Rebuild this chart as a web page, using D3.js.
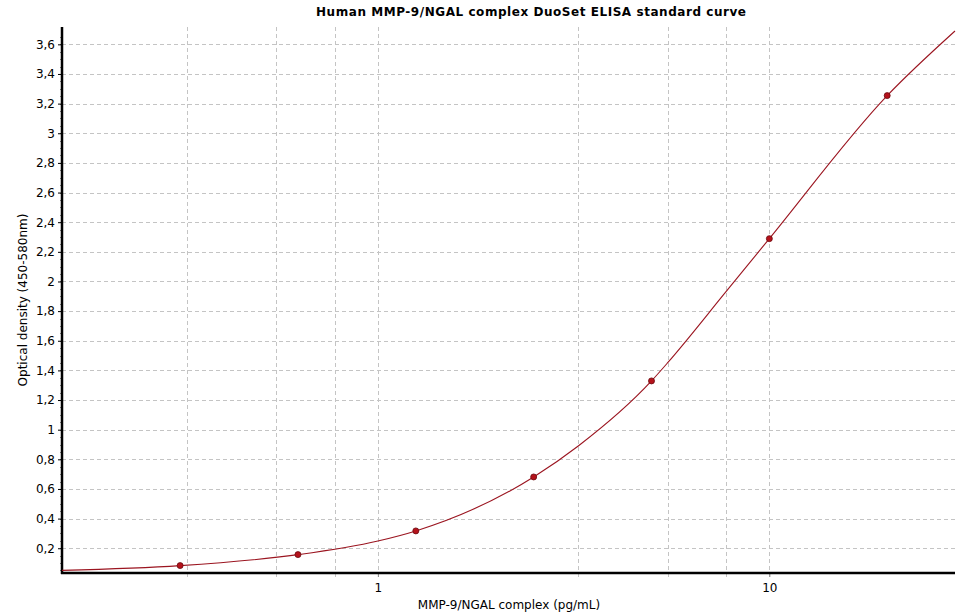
<!DOCTYPE html>
<html>
<head>
<meta charset="utf-8">
<script src="https://cdn.jsdelivr.net/npm/d3@7"></script>
<style>
  body { margin: 0; background: #fff; }
  text { font-family: "DejaVu Sans", Verdana, sans-serif; }
</style>
</head>
<body>
<div id="chart"></div>
<script>
// Standard concentrations (pg/mL) and measured optical density
var concentrations = [0.3125, 0.625, 1.25, 2.5, 5, 10, 20];
var densities = [0.083, 0.157, 0.317, 0.681, 1.329, 2.289, 3.254];

// Fitted curve
var curveConc = [0.156, 0.3125, 0.625, 1.0, 1.25, 2.5, 3.25, 5, 5.5, 7.75, 10, 20, 29.8];
var curveOD = [0.051, 0.083, 0.157, 0.249, 0.317, 0.681, 0.890, 1.329, 1.452, 1.931, 2.289, 3.254, 3.690];

// Axis ticks
var yTicks = [0.2, 0.4, 0.6, 0.8, 1, 1.2, 1.4, 1.6, 1.8, 2, 2.2, 2.4, 2.6, 2.8, 3, 3.2, 3.4, 3.6];
var xLabelTicks = [1, 10];
var xGridTicks = [0.325, 0.55, 0.775, 1, 3.25, 5.5, 7.75, 10];

var svgWidth = 970;
var svgHeight = 613;

var margin = {
  top: 27,
  right: 15,
  bottom: 40,
  left: 62
};

var width = svgWidth - margin.left - margin.right;
var height = svgHeight - margin.top - margin.bottom;

var svg = d3.select("#chart")
  .append("svg")
  .attr("width", svgWidth)
  .attr("height", svgHeight);

var chartGroup = svg.append("g")
  .attr("transform", `translate(${margin.left}, ${margin.top})`);

var xScale = d3.scaleLog()
  .domain([0.156, 29.8])
  .range([0, width]);

var yScale = d3.scaleLinear()
  .domain([0.033, 3.717])
  .range([height, 0]);

// Horizontal grid
chartGroup.selectAll(".hgrid")
  .data(yTicks)
  .enter()
  .append("line")
  .attr("x1", 0)
  .attr("x2", width)
  .attr("y1", d => Math.round(yScale(d)) + 0.5)
  .attr("y2", d => Math.round(yScale(d)) + 0.5)
  .attr("stroke", "#c4c4c4")
  .attr("stroke-dasharray", "4,3");

// Vertical grid
chartGroup.selectAll(".vgrid")
  .data(xGridTicks)
  .enter()
  .append("line")
  .attr("x1", d => Math.round(xScale(d)) + 0.5)
  .attr("x2", d => Math.round(xScale(d)) + 0.5)
  .attr("y1", 0)
  .attr("y2", height + 4)
  .attr("stroke", "#c4c4c4")
  .attr("stroke-dasharray", "4,3");

// Minor ticks on the y axis
chartGroup.selectAll(".ytickminor")
  .data(d3.range(0.05, 3.7, 0.05))
  .enter()
  .append("line")
  .attr("x1", -2)
  .attr("x2", 0)
  .attr("y1", d => Math.round(yScale(d)) + 0.5)
  .attr("y2", d => Math.round(yScale(d)) + 0.5)
  .attr("stroke", "#888");

// Y axis
var leftAxis = d3.axisLeft(yScale)
  .tickValues(yTicks)
  .tickSize(4)
  .tickPadding(3)
  .tickFormat(d => d3.format("~g")(d).replace(".", ","));

var yAxis = chartGroup.append("g")
  .call(leftAxis);

yAxis.select(".domain").remove();
yAxis.selectAll("text")
  .attr("font-size", "12px")
  .attr("font-family", "'DejaVu Sans', sans-serif")
  .attr("fill", "#000");

// X axis
var bottomAxis = d3.axisBottom(xScale)
  .tickValues(xLabelTicks)
  .tickSize(4)
  .tickPadding(6)
  .tickFormat(d3.format("d"));

var xAxis = chartGroup.append("g")
  .attr("transform", `translate(0, ${height})`)
  .call(bottomAxis);

xAxis.select(".domain").remove();
xAxis.selectAll("line").attr("stroke", "#888");
xAxis.selectAll("text")
  .attr("font-size", "12px")
  .attr("font-family", "'DejaVu Sans', sans-serif")
  .attr("fill", "#000");

// Axis lines
chartGroup.append("line")
  .attr("x1", 0)
  .attr("x2", 0)
  .attr("y1", 0)
  .attr("y2", height + 1)
  .attr("stroke", "#000")
  .attr("stroke-width", 2.5);

chartGroup.append("line")
  .attr("x1", -1)
  .attr("x2", width)
  .attr("y1", height)
  .attr("y2", height)
  .attr("stroke", "#000")
  .attr("stroke-width", 2.5);

// Fitted curve
var curveData = curveConc.map((c, i) => ({ conc: c, od: curveOD[i] }));

var line = d3.line()
  .x(d => xScale(d.conc))
  .y(d => yScale(d.od))
  .curve(d3.curveMonotoneX);

chartGroup.append("path")
  .datum(curveData)
  .attr("d", line)
  .attr("fill", "none")
  .attr("stroke", "#9b1520")
  .attr("stroke-width", 1.1);

// Standard points
var pointData = concentrations.map((c, i) => ({ conc: c, od: densities[i] }));

chartGroup.selectAll(".point")
  .data(pointData)
  .enter()
  .append("circle")
  .attr("cx", d => xScale(d.conc))
  .attr("cy", d => yScale(d.od))
  .attr("r", 3)
  .attr("fill", "#b5121b")
  .attr("stroke", "#6a0a0f")
  .attr("stroke-width", 0.8);

// Title
svg.append("text")
  .attr("x", 531)
  .attr("y", 16)
  .attr("text-anchor", "middle")
  .attr("font-size", "12px")
  .attr("font-weight", "bold")
  .attr("fill", "#000")
  .attr("textLength", 430)
  .attr("lengthAdjust", "spacing")
  .text("Human MMP-9/NGAL complex DuoSet ELISA standard curve");

// Axis labels
svg.append("text")
  .attr("x", 509)
  .attr("y", 609)
  .attr("text-anchor", "middle")
  .attr("font-size", "12px")
  .attr("fill", "#000")
  .text("MMP-9/NGAL complex (pg/mL)");

svg.append("text")
  .attr("transform", "rotate(-90)")
  .attr("x", -300)
  .attr("y", 27)
  .attr("text-anchor", "middle")
  .attr("font-size", "12px")
  .attr("fill", "#000")
  .text("Optical density (450-580nm)");
</script>
</body>
</html>
